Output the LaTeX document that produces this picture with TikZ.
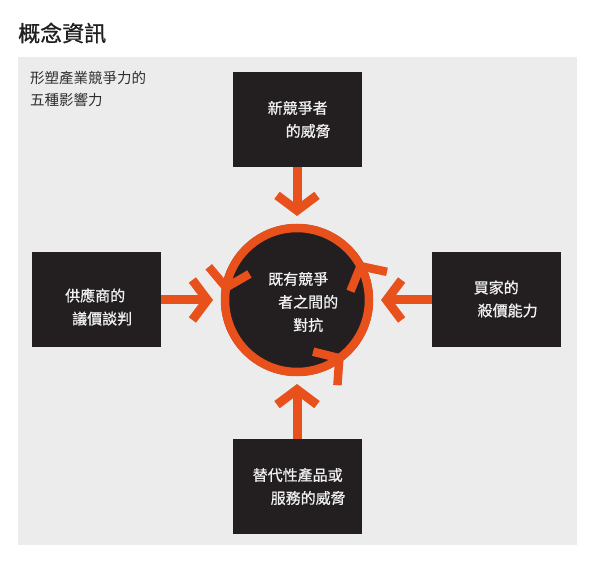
\documentclass[tikz,border=0pt]{standalone}
\usepackage{fontspec}
\setmainfont{Noto Sans CJK TC}
\usetikzlibrary{positioning,arrows.meta}
\definecolor{cheng}{RGB}{232,80,28}
\definecolor{hui}{RGB}{236,236,236}
\definecolor{hei}{RGB}{35,31,32}
\begin{document}
\begin{tikzpicture}[x=1pt,y=1pt,line cap=butt,line join=miter,font=\fontsize{15}{23}\selectfont]
	\tikzset{heibox/.style={fill=hei,minimum width=129pt,minimum height=95pt,inner sep=0pt,outer sep=0pt},
		zi/.style={text=white!94!black,align=left,anchor=west,inner sep=0pt,font=\fontsize{15}{23}\selectfont\addfontfeature{FakeBold=0.8}},
		li/.style={draw=cheng,line width=9pt,-{Straight Barb[length=15pt,width=40pt]},shorten >=8pt},
		huan/.style={draw=cheng,line width=8.5pt}}
	\useasboundingbox (0,0) rectangle (600,563);
	\fill[hui] (18,18) rectangle (577,506);
	\node[anchor=west,inner sep=0pt,font=\fontsize{22}{26}\selectfont\addfontfeature{FakeBold=1},text=black!88] (biaoti) at (18,530) {概念資訊};
	\node[anchor=west,inner sep=0pt,font=\fontsize{14.5}{22}\selectfont,text=black!82,align=left] (fubiao) at (30,474) {形塑產業競爭力的\\五種影響力};
	%--------- 對抗
	\node[circle,fill=hei,minimum size=152pt,inner sep=0pt,outer sep=0pt] (jing) at (297,263) {};
	\draw[huan] (jing.center) circle[radius=72pt];
	\foreach \a in {28,170,306}{
		\coordinate (jian) at ([shift={(\a:72)}]jing.center);
		\draw[huan] ([shift={(\a-40:27)}]jian) -- (jian) -- ([shift={(\a-140:27)}]jian);
	}
	\node[zi] (jing-t) at ([xshift=-29pt,yshift=-2pt]jing.center) {既有競爭\\\hspace*{10pt}者之間的\\\hspace*{25pt}對抗};
	%--------- 四力
	\node[heibox,above=57pt of jing] (xin) {};
	\node[heibox,left=60pt of jing] (gong) {};
	\node[heibox,right=59pt of jing] (mai) {};
	\node[heibox,below=63pt of jing] (dai) {};
	\node[zi] (xin-t) at ([xshift=-29.5pt]xin.center) {新競爭者\\\hspace*{18pt}的威脅};
	\node[zi] (gong-t) at ([xshift=-31.5pt,yshift=-7pt]gong.center) {供應商的\\\hspace*{7pt}議價談判};
	\node[zi] (mai-t) at ([xshift=-23pt,yshift=1pt]mai.center) {買家的\\\hspace*{4pt}殺價能力};
	\node[zi] (dai-t) at ([xshift=-44.5pt]dai.center) {替代性產品或\\\hspace*{18pt}服務的威脅};
	\draw[li] (xin) -- (jing);
	\draw[li] (gong) -- (jing);
	\draw[li] (mai) -- (jing);
	\draw[li] (dai) -- (jing);
\end{tikzpicture}
\end{document}
